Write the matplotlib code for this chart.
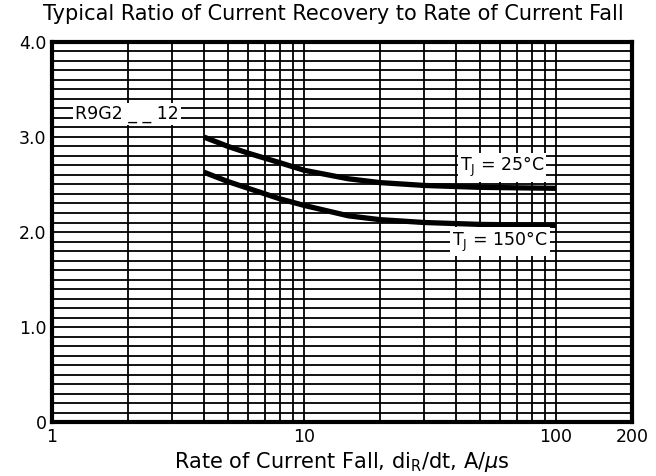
import numpy as np
import matplotlib.pyplot as plt
from matplotlib.ticker import FixedLocator, NullFormatter

plt.rcParams['font.family'] = ['DejaVu Sans']
plt.rcParams['mathtext.fontset'] = 'dejavusans'

# data
di_dt = [4, 5, 6, 8, 10, 15, 20, 30, 50, 100]
ratio_25c = [3.00, 2.90, 2.83, 2.73, 2.65, 2.56, 2.52, 2.49, 2.47, 2.46]
ratio_150c = [2.63, 2.53, 2.46, 2.35, 2.28, 2.17, 2.13, 2.10, 2.08, 2.07]

x_major = [1, 10, 100, 200]
x_major_labels = ['1', '10', '100', '200']
x_minor = [2, 3, 4, 5, 6, 7, 8, 9, 20, 30, 40, 50, 60, 70, 80, 90]
y_major = [0, 1, 2, 3, 4]
y_major_labels = ['0', '1.0', '2.0', '3.0', '4.0']
y_minor = np.round(np.arange(0, 4.01, 0.1), 1)

fig = plt.figure(figsize=(6.56, 4.76), dpi=100)
ax = fig.add_axes([0.0793, 0.1134, 0.8841, 0.7984])

ax.set_xscale('log')
ax.set_xlim(1, 200)
ax.set_ylim(0, 4.0)

ax.xaxis.set_major_locator(FixedLocator(x_major))
ax.set_xticklabels(x_major_labels)
ax.xaxis.set_minor_locator(FixedLocator(x_minor))
ax.xaxis.set_minor_formatter(NullFormatter())
ax.yaxis.set_major_locator(FixedLocator(y_major))
ax.set_yticklabels(y_major_labels)
ax.yaxis.set_minor_locator(FixedLocator(y_minor))

ax.grid(which='both', color='black', linewidth=1.3)
ax.tick_params(which='both', length=0, labelsize=12.5, pad=4)
for s in ax.spines.values():
    s.set_linewidth(3)

ax.plot(di_dt, ratio_25c, color='black', linewidth=3.8, solid_capstyle='butt', zorder=3)
ax.plot(di_dt, ratio_150c, color='black', linewidth=3.8, solid_capstyle='butt', zorder=3)

box = dict(facecolor='white', edgecolor='none', pad=1.5)
ax.text(1.98, 3.24, 'R9G2 _ _ 12', ha='center', va='center', fontsize=12.5, bbox=box, zorder=4)
ax.text(61, 2.68, r'T$_{\rm J}$ = 25°C', ha='center', va='center', fontsize=12.5, bbox=box, zorder=4)
ax.text(60, 1.90, r'T$_{\rm J}$ = 150°C', ha='center', va='center', fontsize=12.5, bbox=box, zorder=4)

fig.text(0.508, 0.971, 'Typical Ratio of Current Recovery to Rate of Current Fall',
         ha='center', va='center', fontsize=15)
ax.set_xlabel(r'Rate of Current Fall, di$_{\rm R}$/dt, A/$\mu$s', fontsize=15, labelpad=3)

fig.savefig('out.png', dpi=100)
